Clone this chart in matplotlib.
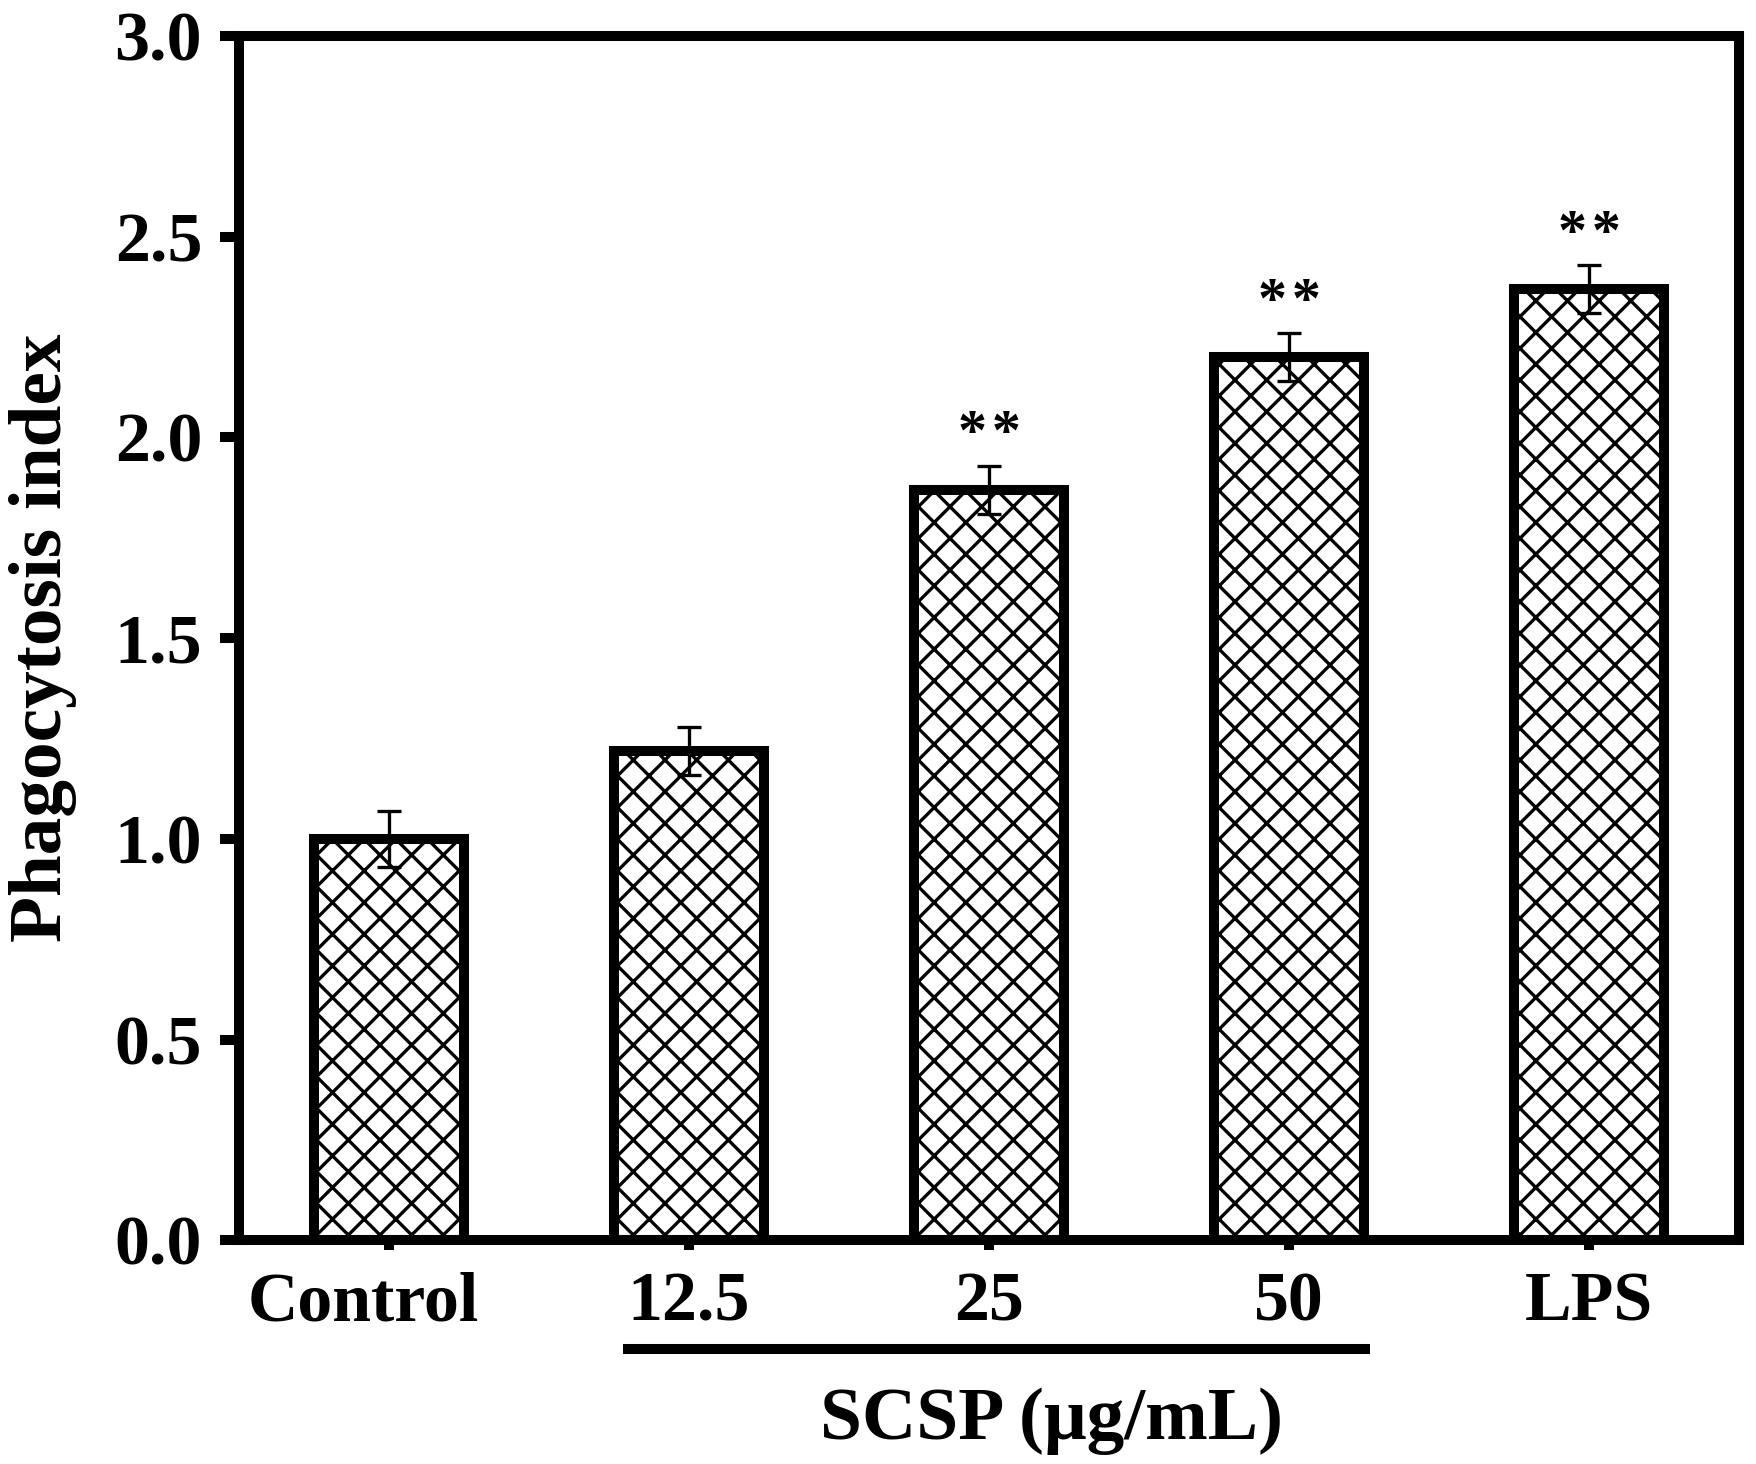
import matplotlib
matplotlib.use("Agg")
import matplotlib.pyplot as plt
import matplotlib.transforms as mtransforms

categories = ["Control", "12.5", "25", "50", "LPS"]
values = [1.00, 1.22, 1.87, 2.20, 2.37]
errors = [0.07, 0.06, 0.06, 0.06, 0.06]
stars = ["", "", "*\u200a*", "*\u200a*", "*\u200a*"]
yticks = [0.0, 0.5, 1.0, 1.5, 2.0, 2.5, 3.0]

plt.rcParams['font.family'] = ['Liberation Serif', 'DejaVu Serif']
plt.rcParams['font.weight'] = 'bold'
plt.rcParams['hatch.linewidth'] = 1.25
plt.rcParams['hatch.color'] = 'black'

DPI = 190
fig = plt.figure(figsize=(1757 / DPI, 1464 / DPI), dpi=DPI)
ax = fig.add_axes([0.1360, 0.1527, 0.9898 - 0.1360, 0.9754 - 0.1527])

x = list(range(len(categories)))
ax.bar(x, values, width=0.5, color='white', edgecolor='black',
       linewidth=3.8, hatch='xx', zorder=2)
ax.errorbar(x, values, yerr=errors, fmt='none', ecolor='black',
            elinewidth=1.25, capsize=4.5, capthick=1.25, zorder=3)

for xi, v, e, s in zip(x, values, errors, stars):
    if s:
        ax.text(xi, v + e + 0.075, s, ha='center', va='center',
                fontsize=22, fontweight='bold')

ax.set_xlim(-0.5, 4.5)
ax.set_ylim(0, 3.0)
ax.set_yticks(yticks)
ax.set_yticklabels([f"{t:.1f}" for t in yticks])
ax.set_xticks(x)
ax.set_xticklabels(categories)

for sp in ax.spines.values():
    sp.set_linewidth(3.8)
    sp.set_zorder(4)

ax.tick_params(axis='y', direction='out', length=7.2, width=3.8, pad=6.8,
               labelsize=26.5)
ax.tick_params(axis='x', direction='out', length=3.8, width=3.8, pad=8,
               labelsize=26.5)
for lab in ax.get_xticklabels() + ax.get_yticklabels():
    lab.set_fontweight('bold')

# the "Control" label sits a little left of its tick in the reference
ctl = ax.get_xticklabels()[0]
ctl.set_transform(ctl.get_transform() +
                  mtransforms.ScaledTranslation(-26 / DPI, 0, fig.dpi_scale_trans))

ax.set_ylabel("Phagocytosis index", fontsize=28.5, fontweight='bold')
ax.yaxis.set_label_coords(-0.108, 0.5)

trans = mtransforms.blended_transform_factory(ax.transData, ax.transAxes)
ax.plot([0.78, 3.27], [-0.090, -0.090], color='black', linewidth=3.8,
        transform=trans, clip_on=False, solid_capstyle='butt')
ax.text(2.207, -0.150, "SCSP (μg/mL)", transform=trans, ha='center',
        va='center', fontsize=28.5, fontweight='bold')

fig.savefig("out.png", dpi=DPI)
